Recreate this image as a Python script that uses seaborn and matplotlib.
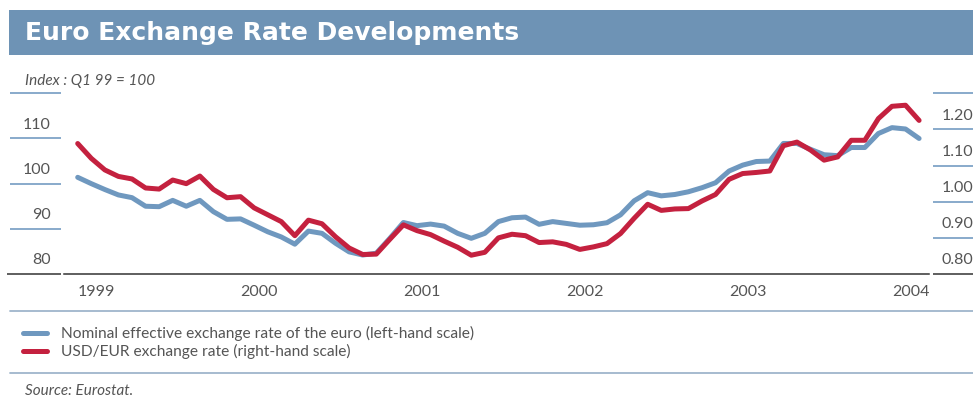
import numpy as np
import pandas as pd
import matplotlib
matplotlib.use("Agg")
import matplotlib.pyplot as plt
import matplotlib.transforms as mtransforms
from matplotlib.lines import Line2D
from matplotlib.patches import Rectangle
from matplotlib.ticker import MultipleLocator
import seaborn as sns

# ------- DATA (monthly, Jan 1999 - Mar 2004) -------

start_year = 1999
years = ["1999", "2000", "2001", "2002", "2003", "2004"]

neer = [
    101.4, 100.0, 98.7, 97.5, 96.9, 95.0, 94.9, 96.3, 95.0, 96.3, 93.8, 92.1,
    92.2, 90.8, 89.35, 88.2, 86.6, 89.5, 89.0, 86.8, 84.9, 84.2, 84.6, 87.9,
    91.4, 90.7, 91.05, 90.6, 89.0, 87.9, 89.0, 91.6, 92.45, 92.6, 91.0, 91.6,
    91.2, 90.8, 90.9, 91.35, 93.1, 96.2, 98.0, 97.3, 97.6, 98.2, 99.1, 100.2,
    102.8, 104.1, 104.9, 105.0, 108.9, 108.9, 107.6, 106.4, 106.2, 108.0, 108.0, 111.1,
    112.4, 112.1, 110.0,
]

usd_eur = [
    1.161, 1.120, 1.088, 1.070, 1.063, 1.038, 1.035, 1.060, 1.050, 1.071, 1.034, 1.011,
    1.014, 0.983, 0.964, 0.945, 0.906, 0.949, 0.939, 0.903, 0.872, 0.854, 0.855, 0.896,
    0.936, 0.920, 0.909, 0.891, 0.874, 0.852, 0.860, 0.900, 0.910, 0.906, 0.887, 0.889,
    0.882, 0.868, 0.875, 0.884, 0.912, 0.954, 0.993, 0.976, 0.980, 0.981, 1.002, 1.020,
    1.062, 1.078, 1.081, 1.085, 1.155, 1.165, 1.143, 1.115, 1.124, 1.170, 1.170, 1.230,
    1.264, 1.267, 1.225,
]

left_ticks = [80, 90, 100, 110]
left_lines = [90, 100, 110, 120]
right_ticks = [0.80, 0.90, 1.00, 1.10, 1.20]
right_lines = [0.90, 1.00, 1.10, 1.20, 1.30]

labels = ["Nominal effective exchange rate of the euro (left-hand scale)",
          "USD/EUR exchange rate (right-hand scale)"]

# ------- STYLE -------

BAND = "#6e93b5"
BLUE = "#6f98bf"
RED = "#c4213f"
GUT = "#7fa4c7"
SEP = "#9fb5cb"
DARK = "#333333"
TXT = "#555555"

sns.set_style("white")
plt.rcParams["font.family"] = ["Lato", "DejaVu Sans"]

W, H = 973, 403
fig = plt.figure(figsize=(W / 100, H / 100), dpi=100)

# plot box: x 64..929 px, y 93..274 px from top
ax = fig.add_axes([64 / W, 1 - 274 / H, 865 / W, (274 - 93.3) / H])
ax2 = ax.twinx()

dates = pd.date_range(f"{start_year}-01-01", periods=len(neer), freq="MS")
df = pd.DataFrame({
    "month": (dates.year - start_year) * 12 + dates.month - 1,
    "neer": neer,
    "usd": usd_eur,
})

sns.lineplot(data=df, x="month", y="neer", ax=ax, color=BLUE, lw=3.6)
sns.lineplot(data=df, x="month", y="usd", ax=ax2, color=RED, lw=3.6)

ax.set_xlim(-1.01, 62.73)
ax.set_ylim(80, 120)
ax2.set_ylim(0.8, 1.3)

for a in (ax, ax2):
    for s in a.spines.values():
        s.set_visible(False)
    a.set_yticks([])
    a.set_xlabel("")
    a.set_ylabel("")
ax.spines["bottom"].set_visible(True)
ax.spines["bottom"].set_color(DARK)
ax.spines["bottom"].set_linewidth(1.1)

ax.set_xticks([i * 12 for i in range(len(years))])
ax.set_xticklabels(years)
ax.xaxis.set_minor_locator(MultipleLocator(3))
ax.tick_params(axis="x", which="major", direction="in", length=5, width=1,
               color=DARK, labelsize=11.5, labelcolor=TXT, pad=8)
ax.tick_params(axis="x", which="minor", direction="in", length=2.5, width=1,
               color=DARK)
for lab in ax.get_xticklabels():
    lab.set_ha("left")

# gutter scale lines and labels
ytr = ax.get_yaxis_transform()
ax.hlines(left_lines, -0.0624, -0.0035, transform=ytr, colors=GUT, lw=1.3, clip_on=False)
ax.hlines([80], -0.066, -0.0035, transform=ytr, colors=DARK, lw=1.1, clip_on=False)
ltr = mtransforms.offset_copy(ytr, fig=fig, y=10, units="points")
for v in left_ticks:
    ax.text(-0.015, v, f"{v}", transform=ltr, ha="right", va="center",
            fontsize=11.5, color=TXT)

ytr2 = ax2.get_yaxis_transform()
ax2.hlines(right_lines, 1.0046, 1.06, transform=ytr2, colors=GUT, lw=1.3, clip_on=False)
ax2.hlines([0.8], 1.0046, 1.06, transform=ytr2, colors=DARK, lw=1.1, clip_on=False)
rtr = mtransforms.offset_copy(ytr2, fig=fig, y=10, units="points")
for v in right_ticks:
    ax2.text(1.015, v, f"{v:.2f}", transform=rtr, ha="left", va="center",
             fontsize=11.5, color=TXT)

# title band
fig.add_artist(Rectangle((9 / W, 1 - 55 / H), 1, 45 / H, transform=fig.transFigure,
                         color=BAND, lw=0))
fig.text(25 / W, 1 - 33 / H, "Euro Exchange Rate Developments", color="white",
         fontsize=18, fontweight="bold", family=["DejaVu Sans"], va="center")
fig.text(25 / W, 1 - 81 / H, "Index : Q1 99 = 100", color=TXT, fontsize=11,
         style="italic", va="center")

# legend block
for yy in (311, 373):
    fig.add_artist(Line2D([10 / W, 1], [1 - yy / H] * 2, color=SEP, lw=1.3))
handles = [Line2D([], [], color=BLUE, lw=3.6), Line2D([], [], color=RED, lw=3.6)]
fig.legend(handles, labels, loc="center left", bbox_to_anchor=(23 / W, 1 - 342.5 / H),
           frameon=False, fontsize=11.2, handlelength=1.55, handletextpad=0.9,
           labelspacing=0.2, borderpad=0, borderaxespad=0, labelcolor=TXT)

fig.text(25 / W, 1 - 391 / H, "Source: Eurostat.", color=TXT, fontsize=11,
         style="italic", va="center")

fig.savefig("out.png", dpi=100)
